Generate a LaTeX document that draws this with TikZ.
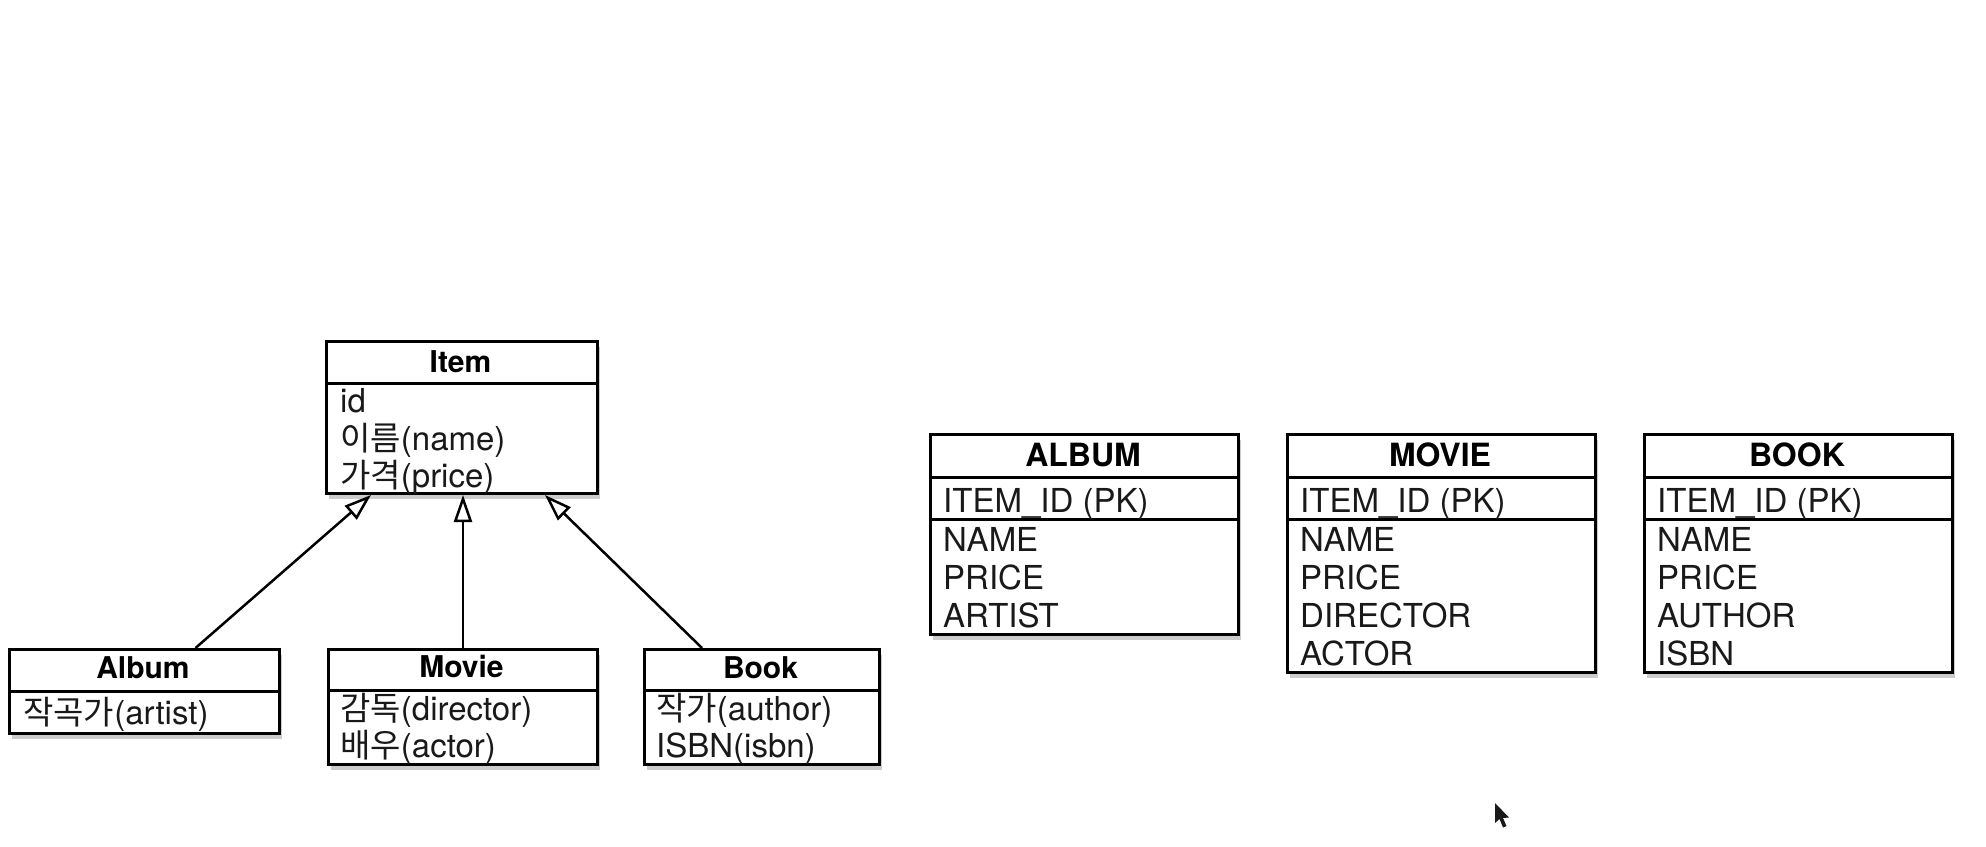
\documentclass[tikz,border=0pt]{standalone}
\usepackage{fontspec}
\setmainfont{TeX Gyre Heros}
\newfontfamily\krfont{Noto Sans CJK KR}
\newcommand\hk[1]{{\krfont #1}}
\usetikzlibrary{arrows.meta,shadows}
\tikzset{
  boxframe/.style={draw=black, line width=3pt, fill=white, inner sep=0pt, anchor=north west,
    drop shadow={shadow xshift=2pt, shadow yshift=-5pt, opacity=0.4}},
  divline/.style={draw=black, line width=3pt},
  ttl/.style={font=\fontsize{30}{36}\selectfont\bfseries, anchor=base, inner sep=0pt, text=black},
  attr/.style={font=\fontsize{33}{38}\selectfont, anchor=base west, inner sep=0pt, text=black!90},
  tttl/.style={font=\fontsize{32}{38}\selectfont\bfseries, anchor=base, inner sep=0pt, text=black},
  tattr/.style={font=\fontsize{33}{38}\selectfont, anchor=base west, inner sep=0pt, text=black!90},
  inh/.style={draw=black, line width=2.5pt, -{Triangle[open, length=27pt, width=18pt]}},
}
\begin{document}
\begin{tikzpicture}[x=1pt,y=-1pt]
\useasboundingbox (0,0) rectangle (1986,846);

% ---------- class diagram ----------
\node[boxframe, minimum width=271pt, minimum height=152pt] (item) at (325,340) {};
\draw[divline] ([yshift=-43pt]item.north west) -- ([yshift=-43pt]item.north east);
\node[ttl] (itemT) at (460.5,372) {Item};
\node[attr] (itemA1) at (340,412) {id};
\node[attr] (itemA2) at (340,450) {\hk{이름}(name)};
\node[attr] (itemA3) at (340,487) {\hk{가격}(price)};

\node[boxframe, minimum width=270pt, minimum height=84pt] (album) at (8,648) {};
\draw[divline] ([yshift=-43pt]album.north west) -- ([yshift=-43pt]album.north east);
\node[ttl] (albumT) at (143,678) {Album};
\node[attr] (albumA1) at (23,724) {\hk{작곡가}(artist)};

\node[boxframe, minimum width=269pt, minimum height=115pt] (movie) at (327,648) {};
\draw[divline] ([yshift=-42pt]movie.north west) -- ([yshift=-42pt]movie.north east);
\node[ttl] (movieT) at (461.5,677) {Movie};
\node[attr] (movieA1) at (340,720) {\hk{감독}(director)};
\node[attr] (movieA2) at (340,757) {\hk{배우}(actor)};

\node[boxframe, minimum width=235pt, minimum height=115pt] (book) at (643,648) {};
\draw[divline] ([yshift=-42pt]book.north west) -- ([yshift=-42pt]book.north east);
\node[ttl] (bookT) at (760.5,678) {Book};
\node[attr] (bookA1) at (656,720) {\hk{작가}(author)};
\node[attr] (bookA2) at (656,757) {ISBN(isbn)};

\draw[inh] ([xshift=51pt]album.north) -- ([xshift=-91pt]item.south);
\draw[inh] (movie.north) -- (movie.north |- item.south);
\draw[inh] ([xshift=-60pt]book.north) -- ([xshift=83pt]item.south);

% ---------- tables ----------
\node[boxframe, minimum width=308pt, minimum height=200pt] (talbum) at (929,433) {};
\draw[divline] ([yshift=-44pt]talbum.north west) -- ([yshift=-44pt]talbum.north east);
\draw[divline] ([yshift=-86pt]talbum.north west) -- ([yshift=-86pt]talbum.north east);
\node[tttl] (talbumT) at (1083,466) {ALBUM};
\node[tattr] (talbumK) at (943,512) {ITEM\_ID (PK)};
\node[tattr] (talbumR1) at (943,551) {NAME};
\node[tattr] (talbumR2) at (943,589) {PRICE};
\node[tattr] (talbumR3) at (943,627) {ARTIST};

\node[boxframe, minimum width=308pt, minimum height=238pt] (tmovie) at (1286,433) {};
\draw[divline] ([yshift=-44pt]tmovie.north west) -- ([yshift=-44pt]tmovie.north east);
\draw[divline] ([yshift=-86pt]tmovie.north west) -- ([yshift=-86pt]tmovie.north east);
\node[tttl] (tmovieT) at (1440,466) {MOVIE};
\node[tattr] (tmovieK) at (1300,512) {ITEM\_ID (PK)};
\node[tattr] (tmovieR1) at (1300,551) {NAME};
\node[tattr] (tmovieR2) at (1300,589) {PRICE};
\node[tattr] (tmovieR3) at (1300,627) {DIRECTOR};
\node[tattr] (tmovieR4) at (1300,665) {ACTOR};

\node[boxframe, minimum width=308pt, minimum height=238pt] (tbook) at (1643,433) {};
\draw[divline] ([yshift=-44pt]tbook.north west) -- ([yshift=-44pt]tbook.north east);
\draw[divline] ([yshift=-86pt]tbook.north west) -- ([yshift=-86pt]tbook.north east);
\node[tttl] (tbookT) at (1797,466) {BOOK};
\node[tattr] (tbookK) at (1657,512) {ITEM\_ID (PK)};
\node[tattr] (tbookR1) at (1657,551) {NAME};
\node[tattr] (tbookR2) at (1657,589) {PRICE};
\node[tattr] (tbookR3) at (1657,627) {AUTHOR};
\node[tattr] (tbookR4) at (1657,665) {ISBN};

% ---------- mouse pointer ----------
\fill[black, opacity=0.9] (1495,803) -- (1495,823) -- (1499.5,819) -- (1503,827.5) -- (1506.5,826) -- (1503,818) -- (1509,817.5) -- cycle;
\end{tikzpicture}
\end{document}
